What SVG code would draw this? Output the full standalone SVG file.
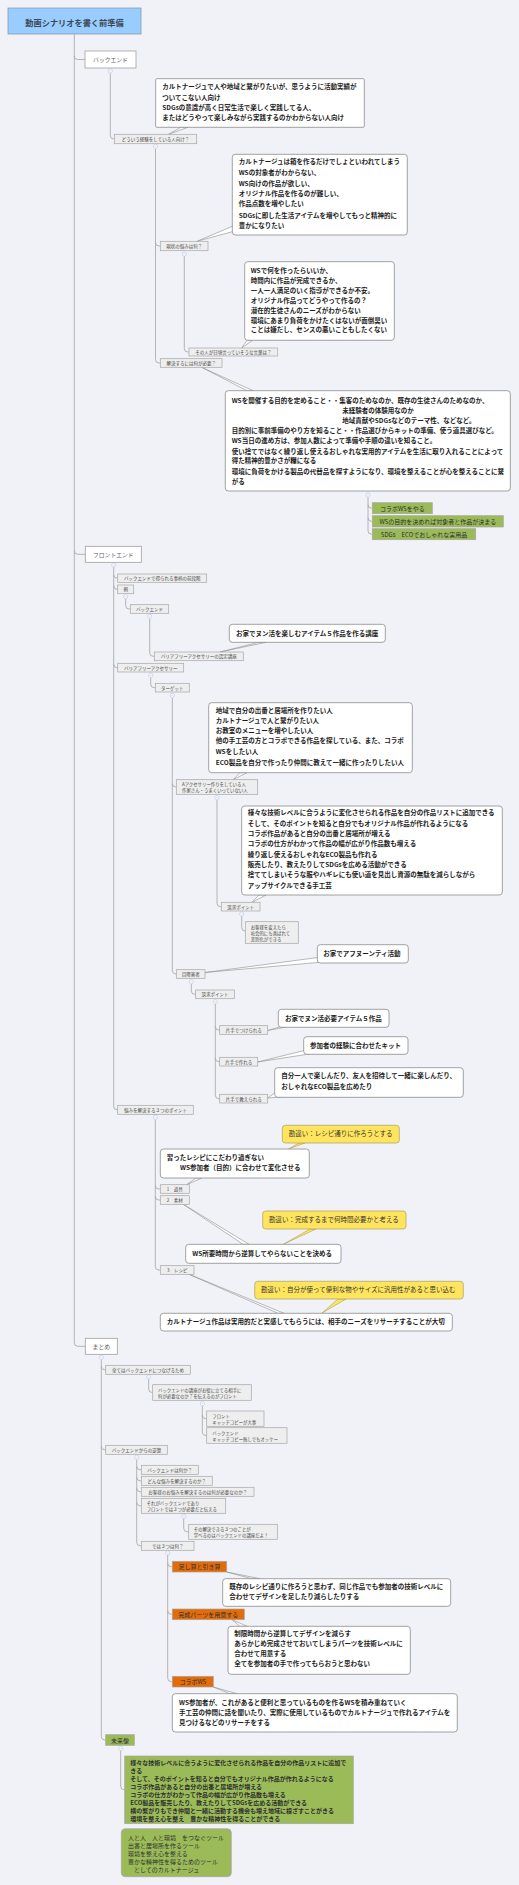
<svg xmlns="http://www.w3.org/2000/svg" xmlns:xlink="http://www.w3.org/1999/xlink" width="519" height="1885" viewBox="0 0 519 1885">
<style>
text{font-family:"Noto Sans CJK JP","Noto Sans",sans-serif;dominant-baseline:central}
.ln{fill:none;stroke:#a3a3a3;stroke-width:0.8}
.g{fill:#eeeeee;stroke:#a6a6a6;stroke-width:0.7}
.w{fill:#ffffff;stroke:#a0a0a0;stroke-width:0.8}
.cb{fill:#ffffff;stroke:#8c8c8c;stroke-width:0.8}
.gr{fill:#9bbb59;stroke:#a6a6a6;stroke-width:0.7}
.or{fill:#e36c0a;stroke:#a6a6a6;stroke-width:0.7}
.ye{fill:#ffe45e;stroke:#a89f6a;stroke-width:0.7}
.tl{fill:#ffffff;stroke:#8c8c8c;stroke-width:0.6}
.tly{fill:#ffe45e;stroke:#a89f6a;stroke-width:0.6}
.tr{font-size:8.2px;font-weight:bold;fill:#3d4756;text-anchor:middle}
.tm{font-size:5.8px;fill:#666;text-anchor:middle}
.ts{font-size:4.5px;fill:#444;text-anchor:middle}
.tsl{font-size:4.4px;fill:#444}
.tc{font-size:6.5px;font-weight:bold;fill:#1c1c1c}
.tg{font-size:6px;fill:#2e2e2e;text-anchor:middle}
.tgl{font-size:6px;fill:#2e2e2e}
.tgb{font-size:6px;font-weight:bold;fill:#2e2e2e}
.ty{font-size:6.5px;fill:#333}
</style>
<defs>
<g id="cc"><circle r="2.1" fill="#fff" stroke="#a9b6dd" stroke-width="0.5"/><path d="M-1 0H1" stroke="#a9b6dd" stroke-width="0.5"/></g>
</defs>
<rect width="519" height="1885" fill="#f1f2f7"/>

<g id="connectors">
<path class="ln" d="M74.3 34V1342.8Q74.3 1346.3 77.8 1346.3H85.3"/>
<path class="ln" d="M74.3 56Q74.3 59.5 77.8 59.5H85"/>
<path class="ln" d="M74.3 550.8Q74.3 554.3 77.8 554.3H85.3"/>
<path class="ln" d="M110.3 73.2V135.5Q110.3 139 113.8 139H114.3"/>
<path class="ln" d="M155.5 148.5V359.5Q155.5 363 159 363H160.3"/>
<path class="ln" d="M155.5 242.5Q155.5 246 159 246H160.3"/>
<path class="ln" d="M184.3 256.2V348.5Q184.3 352 187.8 352H189"/>
<path class="ln" d="M368 497.2V530.7Q368 534.2 371.5 534.2H372.3"/>
<path class="ln" d="M368 504.7Q368 508.2 371.5 508.2H372.3"/>
<path class="ln" d="M368 517.8Q368 521.3 371.5 521.3H372.3"/>
<path class="ln" d="M113.7 567.2V1106.3Q113.7 1109.8 117.2 1109.8H117.7"/>
<path class="ln" d="M113.7 574.7Q113.7 578.2 117.2 578.2H117.7"/>
<path class="ln" d="M113.7 585.8Q113.7 589.3 117.2 589.3H117.7"/>
<path class="ln" d="M113.7 664.2Q113.7 667.7 117.2 667.7H117.7"/>
<path class="ln" d="M125.7 598.9V605.5Q125.7 609 129.2 609H130.3"/>
<path class="ln" d="M149.7 618.5V652.8Q149.7 656.3 153.2 656.3H154.3"/>
<path class="ln" d="M150.7 677.5V684.2Q150.7 687.7 154.2 687.7H155.3"/>
<path class="ln" d="M172.3 697.5V970.5Q172.3 974 175.8 974H176.3"/>
<path class="ln" d="M172.3 783.5Q172.3 787 175.8 787H176.3"/>
<path class="ln" d="M217 799.9V903.2Q217 906.7 220.5 906.7H221.3"/>
<path class="ln" d="M241.7 916.2V927.5Q241.7 931 245.2 931H245.3"/>
<path class="ln" d="M191.3 983.9V990.8Q191.3 994.3 194.8 994.3H195.7"/>
<path class="ln" d="M215.3 1003.9V1095.2Q215.3 1098.7 218.8 1098.7H219.7"/>
<path class="ln" d="M215.3 1026.5Q215.3 1030 218.8 1030H219.7"/>
<path class="ln" d="M215.3 1058.2Q215.3 1061.7 218.8 1061.7H219.7"/>
<path class="ln" d="M155.3 1119.5V1266.5Q155.3 1270 158.8 1270H160.3"/>
<path class="ln" d="M155.3 1185.5Q155.3 1189 158.8 1189H160.3"/>
<path class="ln" d="M155.3 1196.5Q155.3 1200 158.8 1200H160.3"/>
<path class="ln" d="M101.3 1359.5V1736.5Q101.3 1740 104.8 1740H105.7"/>
<path class="ln" d="M101.3 1366.3Q101.3 1369.8 104.8 1369.8H105.7"/>
<path class="ln" d="M101.3 1446.3Q101.3 1449.8 104.8 1449.8H105.7"/>
<path class="ln" d="M148.7 1379.2V1389Q148.7 1392.5 152.2 1392.5H152.7"/>
<path class="ln" d="M202.3 1405.9V1432Q202.3 1435.5 205.8 1435.5H206.7"/>
<path class="ln" d="M202.3 1415.2Q202.3 1418.7 205.8 1418.7H206.7"/>
<path class="ln" d="M136.7 1459.5V1542.3Q136.7 1545.8 140.2 1545.8H141.3"/>
<path class="ln" d="M136.7 1466.3Q136.7 1469.8 140.2 1469.8H141.3"/>
<path class="ln" d="M136.7 1477.3Q136.7 1480.8 140.2 1480.8H141.3"/>
<path class="ln" d="M136.7 1488.3Q136.7 1491.8 140.2 1491.8H141.3"/>
<path class="ln" d="M136.7 1502.3Q136.7 1505.8 140.2 1505.8H141.3"/>
<path class="ln" d="M183.7 1518.5V1528.3Q183.7 1531.8 187.2 1531.8H188.7"/>
<path class="ln" d="M167.7 1555.2V1678.2Q167.7 1681.7 171.2 1681.7H172.3"/>
<path class="ln" d="M167.7 1563.2Q167.7 1566.7 171.2 1566.7H172.3"/>
<path class="ln" d="M167.7 1610.8Q167.7 1614.3 171.2 1614.3H172.3"/>
<path class="ln" d="M120.7 1750.5V1786.4Q120.7 1789.9 124.2 1789.9H124.7"/>
<!-- callout tails -->
<polygon class="tl" points="168.5,134.3 181,127.3 188,127.3"/>
<polygon class="tl" points="197,241.3 233,226 233,231.5"/>
<polygon class="tl" points="241.7,348 247,340.3 252.5,340.3"/>
<polygon class="tl" points="201.7,367.3 247,390.7 253,390.7"/>
<polygon class="tl" points="220,652 259,642.3 266,642.3"/>
<polygon class="tl" points="233,779.7 240,772.7 247,772.7"/>
<polygon class="tl" points="252,902.3 259,895 266,895"/>
<polygon class="tl" points="205,972.5 317.8,957.5 317.8,962.5"/>
<polygon class="tl" points="267.7,1030.5 279,1027 286,1027"/>
<polygon class="tl" points="257.7,1062 304.2,1050.5 309,1054"/>
<polygon class="tl" points="267.7,1098 275.2,1092.5 281,1097"/>
<polygon class="tl" points="186.7,1184.7 196,1178 202,1178"/>
<polygon class="tly" points="288.3,1149 299,1143 305,1143"/>
<polygon class="tl" points="183.3,1204.3 243,1244.3 249,1244.3"/>
<polygon class="tly" points="283.3,1244.3 310,1229 316,1229"/>
<polygon class="tl" points="189,1274.3 278,1313.3 284,1313.3"/>
<polygon class="tly" points="321.7,1313.3 338,1299 346,1299"/>
<polygon class="tl" points="226.7,1572 252,1578.7 260,1578.7"/>
<polygon class="tl" points="232,1619.7 240,1626.3 247,1626.3"/>
<polygon class="tl" points="213.3,1687 230,1693.7 237,1693.7"/>
<!-- collapse markers -->
<use href="#cc" x="110.3" y="71"/>
<use href="#cc" x="155.5" y="146.3"/>
<use href="#cc" x="184.3" y="254"/>
<use href="#cc" x="368" y="495"/>
<use href="#cc" x="113.7" y="565"/>
<use href="#cc" x="125.7" y="596.7"/>
<use href="#cc" x="149.7" y="616.3"/>
<use href="#cc" x="150.7" y="675.3"/>
<use href="#cc" x="172.3" y="695.3"/>
<use href="#cc" x="217" y="797.7"/>
<use href="#cc" x="241.7" y="914"/>
<use href="#cc" x="191.3" y="981.7"/>
<use href="#cc" x="215.3" y="1001.7"/>
<use href="#cc" x="155.3" y="1117.3"/>
<use href="#cc" x="101.3" y="1357.3"/>
<use href="#cc" x="148.7" y="1377"/>
<use href="#cc" x="202.3" y="1403.7"/>
<use href="#cc" x="136.7" y="1457.3"/>
<use href="#cc" x="183.7" y="1516.3"/>
<use href="#cc" x="167.7" y="1553"/>
<use href="#cc" x="120.7" y="1748.3"/>
</g>

<g id="root"><rect x="8" y="8" width="133" height="26" fill="#99ccff" stroke="#8a9bb0" stroke-width="0.8"/><text class="tr" x="74.5" y="21.5">動画シナリオを書く前準備</text></g>

<g id="n-backend"><rect class="w" x="85" y="51" width="51" height="17"/><text class="tm" x="110.5" y="59.5">バックエンド</text></g>
<g id="n-dou"><rect class="g" x="114.3" y="134.3" width="82.4" height="9.4"/><text class="ts" x="155.5" y="139">どういう経験をしている人向け？</text></g>
<g id="c1"><rect class="cb" x="155.7" y="78.7" width="208.6" height="48.6" rx="1"/><text class="tc"><tspan x="162.3" y="86">カルトナージュで人や地域と繋がりたいが、思うように活動実績が</tspan><tspan x="162.3" y="96.7">ついてこない人向け</tspan><tspan x="162.3" y="107.3">SDGsの意識が高く日常生活で楽しく実践してる人、</tspan><tspan x="162.3" y="117.3">またはどうやって楽しみながら実践するのかわからない人向け</tspan></text></g>
<g id="n-genjo"><rect class="g" x="160.3" y="241.3" width="47.7" height="9.4"/><text class="ts" x="184.2" y="246">現状の悩みは何？</text></g>
<g id="c2"><rect class="cb" x="232.3" y="154.3" width="175" height="80.7" rx="3"/><text class="tc"><tspan x="238.7" y="161">カルトナージュは箱を作るだけでしょといわれてしまう</tspan><tspan x="238.7" y="172.3">WSの対象者がわからない、</tspan><tspan x="238.7" y="183">WS向けの作品が欲しい、</tspan><tspan x="238.7" y="193.3">オリジナル作品を作るのが難しい、</tspan><tspan x="238.7" y="203.3">作品点数を増やしたい</tspan><tspan x="238.7" y="214.7">SDGsに即した生活アイテムを増やしてもっと精神的に</tspan><tspan x="238.7" y="224.7">豊かになりたい</tspan></text></g>
<g id="n-sono"><rect class="g" x="189" y="348" width="88.7" height="8"/><text class="ts" x="233.3" y="352">その人が日頃言っていそうな言葉は？</text></g>
<g id="c3"><rect class="cb" x="244.7" y="261.7" width="149.6" height="78.6" rx="3"/><text class="tc"><tspan x="250.7" y="270">WSで何を作ったらいいか、</tspan><tspan x="250.7" y="280.3">時間内に作品が完成できるか、</tspan><tspan x="250.7" y="290.3">一人一人満足のいく指導ができるか不安。</tspan><tspan x="250.7" y="300.3">オリジナル作品ってどうやって作るの？</tspan><tspan x="250.7" y="310">潜在的生徒さんのニーズがわからない</tspan><tspan x="250.7" y="320">環境にあまり負荷をかけたくはないが面倒臭い</tspan><tspan x="250.7" y="329.3">ことは嫌だし、センスの悪いこともしたくない</tspan></text></g>
<g id="n-kaiketsu"><rect class="g" x="160.3" y="358.7" width="61.7" height="8.6"/><text class="ts" x="191.2" y="363">解決するには何が必要？</text></g>
<g id="c4"><rect class="cb" x="225.3" y="390.7" width="285" height="100.3" rx="3"/><text class="tc"><tspan x="231.7" y="399.7">WSを開催する目的を定めること・・集客のためなのか、既存の生徒さんのためなのか、</tspan><tspan x="342.3" y="409.7">未経験者の体験用なのか</tspan><tspan x="342.3" y="419.7">地域貢献やSDGsなどのテーマ性、などなど。</tspan><tspan x="231.7" y="430">目的別に事前準備のやり方を知ること・・作品選びからキットの準備、使う道具選びなど。</tspan><tspan x="231.7" y="439.7">WS当日の進め方は、参加人数によって準備や手順の違いを知ること。</tspan><tspan x="231.7" y="450.7">使い捨てではなく繰り返し使えるおしゃれな実用的アイテムを生活に取り入れることによって</tspan><tspan x="231.7" y="460">得た精神的豊かさが糧になる</tspan><tspan x="231.7" y="471">環境に負荷をかける製品の代替品を探すようになり、環境を整えることが心を整えることに繋</tspan><tspan x="231.7" y="480.7">がる</tspan></text></g>
<g id="g1"><rect class="gr" x="372.3" y="502.7" width="60" height="11"/><text class="tg" x="402.3" y="508.2">コラボWSをやる</text></g>
<g id="g2"><rect class="gr" x="372.3" y="515.7" width="131" height="11.3"/><text class="tg" x="437.8" y="521.3">WSの目的を決めれば対象者と作品が決まる</text></g>
<g id="g3"><rect class="gr" x="372.3" y="528.7" width="103.4" height="11"/><text class="tg" x="424" y="534.2">SDGs　ECOでおしゃれな実用品</text></g>

<g id="n-front"><rect class="w" x="85.3" y="546.3" width="56" height="16"/><text class="tm" x="113.3" y="554.3">フロントエンド</text></g>
<g id="n-zendan"><rect class="g" x="117.7" y="574" width="89" height="8.3"/><text class="ts" x="162.2" y="578.2">バックエンドで得られる事柄の前段階</text></g>
<g id="n-rei"><rect class="g" x="117.7" y="585" width="16" height="8.7"/><text class="ts" x="125.7" y="589.3">例</text></g>
<g id="n-be2"><rect class="g" x="130.3" y="604.7" width="38.4" height="8.6"/><text class="ts" x="149.5" y="609">バックエンド</text></g>
<g id="n-nintei"><rect class="g" x="154.3" y="652" width="89" height="8.7"/><text class="ts" x="198.8" y="656.3">バリアフリーアクセサリーの認定講座</text></g>
<g id="c5"><rect class="cb" x="229.3" y="624.3" width="156" height="18" rx="3"/><text class="tc" x="236" y="632.6">お家でヌン活を楽しむアイテム５作品を作る講座</text></g>
<g id="n-bf"><rect class="g" x="117.7" y="663.3" width="66" height="8.7"/><text class="ts" x="150.7" y="667.7">バリアフリーアクセサリー</text></g>
<g id="n-target"><rect class="g" x="155.3" y="683.3" width="34" height="8.7"/><text class="ts" x="172.3" y="687.7">ターゲット</text></g>
<g id="c6"><rect class="cb" x="208.7" y="702.7" width="203.6" height="70" rx="3"/><text class="tc"><tspan x="215.7" y="710">地域で自分の出番と居場所を作りたい人</tspan><tspan x="215.7" y="720">カルトナージュで人と繋がりたい人</tspan><tspan x="215.7" y="730">お教室のメニューを増やしたい人</tspan><tspan x="215.7" y="740">他の手工芸の方とコラボできる作品を探している、また、コラボ</tspan><tspan x="215.7" y="750.7">WSをしたい人</tspan><tspan x="215.7" y="762">ECO製品を自分で作ったり仲間に教えて一緒に作ったりしたい人</tspan></text></g>
<g id="n-aacc"><rect class="g" x="176.3" y="779.7" width="81.4" height="14.6"/><text class="tsl"><tspan x="182" y="784">Aアクセサリー作りをしている人</tspan><tspan x="182" y="790.3">作家さん・うまくいっていない人</tspan></text></g>
<g id="c7"><rect class="cb" x="241.7" y="806" width="260.6" height="89" rx="3"/><text class="tc"><tspan x="247.7" y="812.3">様々な技術レベルに合うように変化させられる作品を自分の作品リストに追加できる</tspan><tspan x="247.7" y="822.7">そして、そのポイントを知ると自分でもオリジナル作品が作れるようになる</tspan><tspan x="247.7" y="832.7">コラボ作品があると自分の出番と居場所が増える</tspan><tspan x="247.7" y="843">コラボの仕方がわかって作品の幅が広がり作品数も増える</tspan><tspan x="247.7" y="853.7">繰り返し使えるおしゃれなECO製品も作れる</tspan><tspan x="247.7" y="864.3">販売したり、教えたりしてSDGsを広める活動ができる</tspan><tspan x="247.7" y="874.3">捨ててしまいそうな服やハギレにも使い道を見出し資源の無駄を減らしながら</tspan><tspan x="247.7" y="884.7">アップサイクルできる手工芸</tspan></text></g>
<g id="n-sokyu1"><rect class="g" x="221.3" y="902.3" width="38.7" height="8.7"/><text class="ts" x="240.7" y="906.7">訴求ポイント</text></g>
<g id="n-okyaku"><rect class="g" x="245.3" y="921.7" width="53" height="21.6"/><text class="tsl"><tspan x="250.7" y="927">お客様を変えたら</tspan><tspan x="250.7" y="933">社会的にも喜ばれて</tspan><tspan x="250.7" y="939">差別化ができる</tspan></text></g>
<g id="n-me"><rect class="g" x="176.3" y="969.7" width="28.7" height="8.6"/><text class="ts" x="190.7" y="974">目障害者</text></g>
<g id="c8"><rect class="cb" x="317.3" y="944.7" width="91" height="18.3" rx="3"/><text class="tc" x="323.3" y="953">お家でアフヌーンティ活動</text></g>
<g id="n-sokyu2"><rect class="g" x="195.7" y="990" width="38.6" height="8.7"/><text class="ts" x="215" y="994.3">訴求ポイント</text></g>
<g id="n-kata1"><rect class="g" x="219.7" y="1025.7" width="48" height="8.6"/><text class="ts" x="243.7" y="1030">片手でつけられる</text></g>
<g id="c9"><rect class="cb" x="278.3" y="1009.3" width="110.7" height="18" rx="3"/><text class="tc" x="285" y="1017.5">お家でヌン活必要アイテム５作品</text></g>
<g id="n-kata2"><rect class="g" x="219.7" y="1057.3" width="38" height="8.7"/><text class="ts" x="238.7" y="1061.7">片手で作れる</text></g>
<g id="c10"><rect class="cb" x="303.7" y="1036.7" width="104.3" height="17.6" rx="3"/><text class="tc" x="310" y="1044.7">参加者の経験に合わせたキット</text></g>
<g id="n-kata3"><rect class="g" x="219.7" y="1094.3" width="48" height="8.7"/><text class="ts" x="243.7" y="1098.7">片手で教えられる</text></g>
<g id="c11"><rect class="cb" x="274.7" y="1067.7" width="188.6" height="29.6" rx="3"/><text class="tc"><tspan x="281.3" y="1075.3">自分一人で楽しんだり、友人を招待して一緒に楽しんだり、</tspan><tspan x="281.3" y="1085.5">おしゃれなECO製品を広めたり</tspan></text></g>
<g id="n-nayami3"><rect class="g" x="117.7" y="1105.3" width="75.6" height="9"/><text class="ts" x="155.5" y="1109.8">悩みを解決する３つのポイント</text></g>
<g id="n-dogu"><rect class="g" x="160.3" y="1184.7" width="29" height="8.6"/><text class="ts" x="174.8" y="1189">1　道具</text></g>
<g id="n-sozai"><rect class="g" x="160.3" y="1195.7" width="29" height="8.6"/><text class="ts" x="174.8" y="1200">2　素材</text></g>
<g id="c12"><rect class="cb" x="160.3" y="1149" width="149" height="29" rx="3"/><text class="tc"><tspan x="166.7" y="1156.5">習ったレシピにこだわり過ぎない</tspan><tspan x="180" y="1167.2">WS参加者（目的）に合わせて変化させる</tspan></text></g>
<g id="y1"><rect class="ye" x="282.3" y="1125.3" width="117" height="17.7" rx="3"/><text class="ty" x="288.7" y="1133.2">勘違い：レシピ通りに作ろうとする</text></g>
<g id="c13"><rect class="cb" x="185.7" y="1244.3" width="155.3" height="19" rx="3"/><text class="tc" x="192.3" y="1253.2">WS所要時間から逆算してやらないことを決める</text></g>
<g id="y2"><rect class="ye" x="262.7" y="1211" width="143.3" height="18" rx="3"/><text class="ty" x="269" y="1219.2">勘違い：完成するまで何時間必要かと考える</text></g>
<g id="n-recipe"><rect class="g" x="160.3" y="1265.7" width="33.7" height="8.6"/><text class="ts" x="177.2" y="1270">3　レシピ</text></g>
<g id="c14"><rect class="cb" x="160.3" y="1313.3" width="292" height="17.7" rx="3"/><text class="tc" x="166.7" y="1321.3">カルトナージュ作品は実用的だと実感してもらうには、相手のニーズをリサーチすることが大切</text></g>
<g id="y3"><rect class="ye" x="254.7" y="1281.3" width="208.6" height="17.7" rx="3"/><text class="ty" x="261" y="1289.2">勘違い：自分が使って便利な物やサイズに汎用性があると思い込む</text></g>

<g id="n-matome"><rect class="w" x="85.3" y="1338.3" width="32" height="16"/><text class="tm" x="101.3" y="1346.3">まとめ</text></g>
<g id="n-subete"><rect class="g" x="105.7" y="1365.3" width="84.6" height="9"/><text class="ts" x="148" y="1369.8">全てはバックエンドにつなげるため</text></g>
<g id="n-koza"><rect class="g" x="152.7" y="1384.7" width="98.6" height="15.6"/><text class="tsl"><tspan x="158" y="1389.7">バックエンドの講座がお役に立てる相手に</tspan><tspan x="158" y="1395.7">何が必要なのか？を伝えるのがフロント</tspan></text></g>
<g id="n-fcopy"><rect class="g" x="206.7" y="1411" width="57.3" height="15.3"/><text class="tsl"><tspan x="212.3" y="1415.7">フロント</tspan><tspan x="212.3" y="1422">キャッチコピーが大事</tspan></text></g>
<g id="n-bcopy"><rect class="g" x="206.7" y="1427.7" width="80.3" height="15.6"/><text class="tsl"><tspan x="212.3" y="1432.7">バックエンド</tspan><tspan x="212.3" y="1439">キャッチコピー無しでもオッケー</tspan></text></g>
<g id="n-gyaku"><rect class="g" x="105.7" y="1445.3" width="61.6" height="9"/><text class="ts" x="136.5" y="1449.8">バックエンドからの逆算</text></g>
<g id="n-q1"><rect class="g" x="141.3" y="1465.3" width="57" height="9"/><text class="ts" x="169.8" y="1469.8">バックエンドは何か？</text></g>
<g id="n-q2"><rect class="g" x="141.3" y="1476.3" width="71" height="9"/><text class="ts" x="176.8" y="1480.8">どんな悩みを解決するのか？</text></g>
<g id="n-q3"><rect class="g" x="141.3" y="1487.3" width="112.7" height="9"/><text class="ts" x="197.7" y="1491.8">お客様のお悩みを解決するのは何が必要なのか？</text></g>
<g id="n-q4"><rect class="g" x="141.3" y="1498.3" width="84.4" height="15"/><text class="tsl"><tspan x="146.7" y="1503">それがバックエンドであり</tspan><tspan x="146.7" y="1509">フロントでは３つが必要だと伝える</tspan></text></g>
<g id="n-q5"><rect class="g" x="188.7" y="1524.3" width="88.6" height="15"/><text class="tsl"><tspan x="193.7" y="1529">その解決できる３つのことが</tspan><tspan x="193.7" y="1535">学べるのはバックエンドの講座だよ！</tspan></text></g>
<g id="n-q6"><rect class="g" x="141.3" y="1541.3" width="52.7" height="9"/><text class="ts" x="167.7" y="1545.8">では３つは何？</text></g>
<g id="o1"><rect class="or" x="172.3" y="1561.3" width="54.4" height="10.7"/><text class="tg" x="199.5" y="1566.7">足し算と引き算</text></g>
<g id="c15"><rect class="cb" x="222.7" y="1578.7" width="228" height="27.6" rx="3"/><text class="tc"><tspan x="229.3" y="1585.7">既存のレシピ通りに作ろうと思わず、同じ作品でも参加者の技術レベルに</tspan><tspan x="229.3" y="1596">合わせてデザインを足したり減らしたりする</tspan></text></g>
<g id="o2"><rect class="or" x="172.3" y="1609" width="72" height="10.7"/><text class="tg" x="208.3" y="1614.3">完成パーツを用意する</text></g>
<g id="c16"><rect class="cb" x="228" y="1626.3" width="182.3" height="48" rx="3"/><text class="tc"><tspan x="234.3" y="1633">制限時間から逆算してデザインを減らす</tspan><tspan x="234.3" y="1643">あらかじめ完成させておいてしまうパーツを技術レベルに</tspan><tspan x="234.3" y="1653">合わせて用意する</tspan><tspan x="234.3" y="1663">全てを参加者の手で作ってもらおうと思わない</tspan></text></g>
<g id="o3"><rect class="or" x="172.3" y="1676.3" width="41" height="10.7"/><text class="tg" x="192.8" y="1681.7">コラボWS</text></g>
<g id="c17"><rect class="cb" x="172.3" y="1693.7" width="285" height="38.3" rx="3"/><text class="tc"><tspan x="179" y="1701.7">WS参加者が、これがあると便利と思っているものを作るWSを積み重ねていく</tspan><tspan x="179" y="1712">手工芸の仲間に話を聞いたり、実際に使用しているものでカルトナージュで作れるアイテムを</tspan><tspan x="179" y="1721.5">見つけるなどのリサーチをする</tspan></text></g>
<g id="g-mirai"><rect class="gr" x="105.7" y="1734.7" width="28.6" height="10.6"/><text class="tg" x="120" y="1740">未来像</text></g>
<g id="g-box"><rect class="gr" x="124.7" y="1756" width="228.6" height="67.7"/><text class="tgb"><tspan x="130.3" y="1762.3">様々な技術レベルに合うように変化させられる作品を自分の作品リストに追加で</tspan><tspan x="130.3" y="1770">きる</tspan><tspan x="130.3" y="1778">そして、そのポイントを知ると自分でもオリジナル作品が作れるようになる</tspan><tspan x="130.3" y="1786">コラボ作品があると自分の出番と居場所が増える</tspan><tspan x="130.3" y="1794">コラボの仕方がわかって作品の幅が広がり作品数も増える</tspan><tspan x="130.3" y="1802.3">ECO製品を販売したり、教えたりしてSDGsを広める活動ができる</tspan><tspan x="130.3" y="1810.3">横の繋がりもでき仲間と一緒に活動する機会も増え地域に根ざすことがきる</tspan><tspan x="130.3" y="1818.3">環境を整え心を整え　豊かな精神性を得ることができる</tspan></text></g>
<g id="g-float"><rect class="gr" x="121.3" y="1828.7" width="110" height="48" rx="4"/><text class="tgl"><tspan x="128" y="1837">人と人　人と環境　をつなぐツール</tspan><tspan x="128" y="1845">出番と居場所を作るツール</tspan><tspan x="128" y="1852.7">環境を整え心を整える</tspan><tspan x="128" y="1861">豊かな精神性を得るためのツール</tspan><tspan x="128" y="1869">　としてのカルトナージュ</tspan></text></g>
</svg>
